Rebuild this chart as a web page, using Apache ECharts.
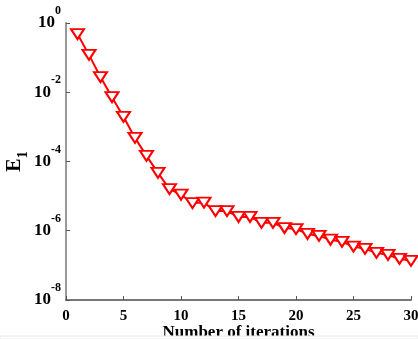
<!DOCTYPE html>
<html lang="en">
<head>
    <meta charset="UTF-8">
    <title>E1 vs iterations</title>
    <script src="https://cdn.jsdelivr.net/npm/echarts@6/dist/echarts.min.js"></script>
    <style>
        body { margin: 0; background: #fff; }
        #main { width: 418px; height: 339px; }
    </style>
</head>
<body>
    <div id="main"></div>
    <script>
        // iterations 1..30 and error E1 (log scale)
        var iterations = [1, 2, 3, 4, 5, 6, 7, 8, 9, 10,
            11, 12, 13, 14, 15, 16, 17, 18, 19, 20,
            21, 22, 23, 24, 25, 26, 27, 28, 29, 30]
        var errorE1 = [4.8e-1, 1.2e-1, 2.75e-2, 7.2e-3, 1.95e-3, 4.8e-4, 1.45e-4, 4.7e-5, 1.6e-5, 1.1e-5,
            6.3e-6, 6.5e-6, 3.7e-6, 3.7e-6, 2.5e-6, 2.5e-6, 1.7e-6, 1.7e-6, 1.2e-6, 1.12e-6,
            8.1e-7, 7.1e-7, 5.5e-7, 4.8e-7, 3.5e-7, 3.0e-7, 2.3e-7, 2.0e-7, 1.55e-7, 1.35e-7]
        var xTicks = [0, 5, 10, 15, 20, 25, 30]

        var serif = 'Liberation Serif'
        var points = iterations.map(function (x, i) { return [x, errorE1[i]] })

        var chart = echarts.init(document.getElementById('main'))
        chart.setOption({
            animation: false,
            grid: { left: 66, right: 7, top: 23, bottom: 39, outerBoundsMode: 'none', containLabel: false },
            xAxis: {
                type: 'value',
                min: xTicks[0],
                max: xTicks[xTicks.length - 1],
                interval: 5,
                name: 'Number of iterations',
                nameLocation: 'middle',
                nameGap: 24,
                nameMoveOverlap: false,
                nameTextStyle: { fontFamily: serif, fontWeight: 'bold', fontSize: 17, color: '#000' },
                axisLine: { lineStyle: { color: '#777', width: 2 } },
                axisTick: { inside: true, length: 4, lineStyle: { color: '#555' } },
                axisLabel: { fontFamily: serif, fontWeight: 'bold', fontSize: 15, color: '#000', margin: 9 },
                splitLine: { show: false }
            },
            yAxis: {
                type: 'log',
                logBase: 10,
                min: 1e-8,
                max: 1,
                interval: 2,
                name: '{e|E}{s|1}',
                nameLocation: 'middle',
                nameRotate: 90,
                nameGap: 36,
                nameMoveOverlap: false,
                nameTextStyle: {
                    rich: {
                        e: { fontFamily: serif, fontWeight: 'bold', fontSize: 20, color: '#000', lineHeight: 30, verticalAlign: 'middle' },
                        s: { fontFamily: serif, fontWeight: 'bold', fontSize: 14, color: '#000', lineHeight: 14, verticalAlign: 'bottom' }
                    }
                },
                axisLine: { show: true, lineStyle: { color: '#999', width: 2 } },
                axisTick: { show: true, inside: true, length: 4, lineStyle: { color: '#555' } },
                minorTick: { show: false },
                axisLabel: {
                    margin: 5,
                    formatter: function (v) {
                        var p = Math.round(Math.log10(v))
                        return '{b|10}{p|' + p + '}'
                    },
                    rich: {
                        b: { fontFamily: serif, fontWeight: 'bold', fontSize: 17, color: '#000', lineHeight: 36, verticalAlign: 'middle' },
                        p: { fontFamily: serif, fontWeight: 'bold', fontSize: 12, color: '#000', lineHeight: 16, verticalAlign: 'top' }
                    }
                },
                splitLine: { show: false }
            },
            series: [{
                type: 'line',
                data: points,
                symbol: 'triangle',
                symbolRotate: 180,
                symbolSize: [13, 10],
                showAllSymbol: true,
                lineStyle: { color: '#ff0000', width: 2 },
                itemStyle: { color: '#fff', borderColor: '#ff0000', borderWidth: 2 }
            }],
            graphic: [{
                type: 'rect',
                shape: { x: 0, y: 336, width: 418, height: 3 },
                style: { fill: '#fff', stroke: '#e8e8e8', lineWidth: 1 },
                z: 100
            }]
        })
    </script>
</body>
</html>
